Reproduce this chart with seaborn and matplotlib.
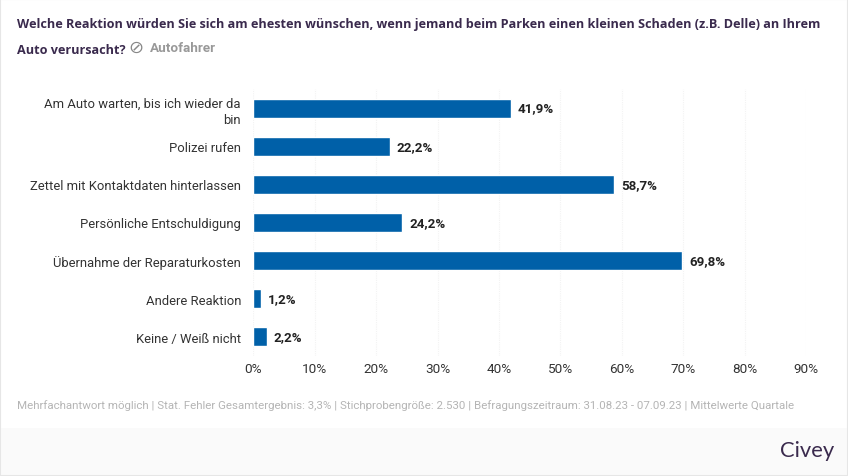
import pandas as pd
import seaborn as sns
import matplotlib.pyplot as plt
from matplotlib.patches import Rectangle

categories = ['Am Auto warten, bis ich wieder da\nbin', 'Polizei rufen', 'Zettel mit Kontaktdaten hinterlassen',
              'Persönliche Entschuldigung', 'Übernahme der Reparaturkosten', 'Andere Reaktion', 'Keine / Weiß nicht']
values = [41.9, 22.2, 58.7, 24.2, 69.8, 1.2, 2.2]
ticks = [0, 10, 20, 30, 40, 50, 60, 70, 80, 90]

W, H = 848, 477
sns.set_theme(style='white')
plt.rcParams['font.family'] = ['Roboto', 'DejaVu Sans']

df = pd.DataFrame({'antwort': categories, 'wert': values})

fig = plt.figure(figsize=(W / 100, H / 100), dpi=100, facecolor='white')
ax = fig.add_axes([253.5 / W, 1 - 357 / H, (806 - 253.5) / W, (357 - 90) / H])
sns.barplot(data=df, y='antwort', x='wert', color='#0060a8', saturation=1, width=0.5, ax=ax, zorder=3)

ax.set_xlim(0, 90)
ax.set_xticks(ticks)
ax.set_xticklabels([f'{t}%' for t in ticks], fontsize=9.7, color='#333333')
ax.tick_params(axis='x', length=0, pad=4.5)
ax.tick_params(axis='y', length=0, pad=9, labelsize=9.4, labelcolor='#333333')
ax.set_xlabel('')
ax.set_ylabel('')
ax.xaxis.grid(True, color='#f3f3f3', linewidth=0.8, linestyle=(0, (1, 1)))
ax.set_axisbelow(True)
sns.despine(ax=ax, left=True, bottom=True, top=True, right=True)
for lab in ax.get_yticklabels():
    lab.set_linespacing(1.35)

for y, v in enumerate(values):
    ax.annotate(f'{v:.1f}%'.replace('.', ','), (v, y), xytext=(5, 0), textcoords='offset points',
                va='center', ha='left', fontsize=9.6, fontweight='bold', color='#222222')


def px_text(x, y, s, **kw):
    fig.text(x / W, 1 - y / H, s, va='center', **kw)


# header, footer and frame
title_col = '#3a2a4d'
px_text(17, 24.5, 'Welche Reaktion würden Sie sich am ehesten wünschen, wenn jemand beim Parken einen kleinen Schaden (z.B. Delle) an Ihrem',
        fontsize=9.05, fontweight='bold', color=title_col, family='Open Sans')
px_text(17, 50.5, 'Auto verursacht?', fontsize=9.05, fontweight='bold', color=title_col, family='Open Sans')
px_text(128, 48, '\u2298', fontsize=13, color='#888888', family='DejaVu Sans')
px_text(150, 48, 'Autofahrer', fontsize=9.7, fontweight='bold', color='#999999')
px_text(17, 405.5, 'Mehrfachantwort möglich | Stat. Fehler Gesamtergebnis: 3,3% | Stichprobengröße: 2.530 | '
        'Befragungszeitraum: 31.08.23 - 07.09.23 | Mittelwerte Quartale',
        fontsize=8.27, color='#b5b5b5')
fig.add_artist(Rectangle((0, 0), 1, 1 - 429 / H, transform=fig.transFigure, facecolor='#fafafa', edgecolor='none', zorder=-1))
px_text(780, 451.5, 'Civey', fontsize=15.8, color=title_col, family='Lato')
fig.add_artist(Rectangle((0, 0), 1, 1, transform=fig.transFigure, facecolor='none', edgecolor='#e6e6e6', linewidth=1.5))

fig.savefig('out.png', dpi=100)
